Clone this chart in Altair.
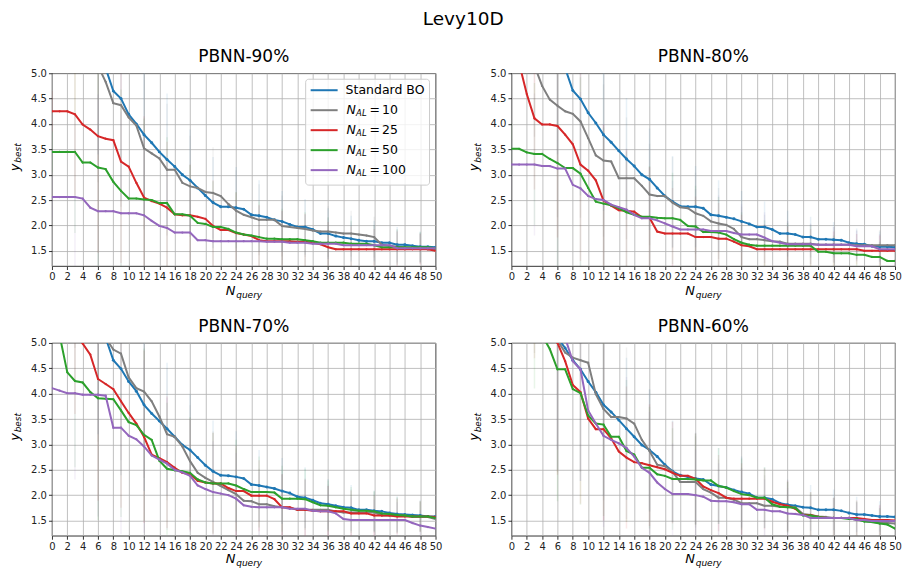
import altair as alt
import pandas as pd

FONT = "DejaVu Sans"
X = list(range(51))
ERR_X = list(range(0, 51, 3))

SERIES = ["Standard BO", "N_AL = 10", "N_AL = 25", "N_AL = 50", "N_AL = 100"]
COLORS = ["#1f77b4", "#7f7f7f", "#d62728", "#2ca02c", "#9467bd"]
PANELS = ["PBNN-90%", "PBNN-80%", "PBNN-70%", "PBNN-60%"]
X_TICKS = list(range(0, 51, 2))
Y_TICKS = [1.5, 2.0, 2.5, 3.0, 3.5, 4.0, 4.5, 5.0]

# ---------------- PBNN-90% ----------------
p90_bo = [8.2, 7.9, 7.5, 7.1, 6.7, 6.2, 5.7, 5.1, 4.65, 4.50, 4.19, 4.00, 3.79, 3.63, 3.45, 3.30, 3.16, 3.00,
          2.89, 2.74, 2.59, 2.45, 2.37, 2.37, 2.35, 2.32, 2.21, 2.19, 2.16, 2.11, 2.08, 2.02, 1.97, 1.97, 1.92,
          1.84, 1.84, 1.79, 1.76, 1.74, 1.71, 1.69, 1.69, 1.66, 1.66, 1.62, 1.62, 1.60, 1.58, 1.58, 1.57]
p90_n10 = [7.8, 7.5, 7.1, 6.6, 6.1, 5.6, 5.15, 4.83, 4.41, 4.37, 4.13, 3.97, 3.52, 3.42, 3.32, 3.10, 3.10, 2.84,
           2.77, 2.74, 2.66, 2.64, 2.58, 2.42, 2.29, 2.21, 2.16, 2.11, 2.11, 2.11, 1.99, 1.97, 1.95, 1.93, 1.90,
           1.88, 1.88, 1.86, 1.84, 1.84, 1.82, 1.80, 1.77, 1.62, 1.60, 1.58, 1.57, 1.55, 1.55, 1.53, 1.53]
p90_n25 = [4.25, 4.25, 4.25, 4.19, 3.99, 3.89, 3.76, 3.71, 3.68, 3.26, 3.16, 2.84, 2.55, 2.48, 2.43, 2.35, 2.22,
           2.20, 2.20, 2.17, 2.13, 1.99, 1.91, 1.91, 1.85, 1.82, 1.79, 1.71, 1.69, 1.69, 1.69, 1.69, 1.68, 1.68,
           1.66, 1.63, 1.57, 1.53, 1.53, 1.53, 1.53, 1.53, 1.53, 1.53, 1.53, 1.53, 1.53, 1.53, 1.53, 1.53, 1.50]
p90_n50 = [3.45, 3.45, 3.45, 3.45, 3.24, 3.24, 3.14, 3.11, 2.86, 2.68, 2.53, 2.53, 2.51, 2.50, 2.44, 2.44, 2.22,
           2.22, 2.19, 2.05, 2.03, 1.97, 1.97, 1.93, 1.86, 1.82, 1.80, 1.77, 1.74, 1.74, 1.73, 1.73, 1.73, 1.71,
           1.69, 1.66, 1.66, 1.66, 1.66, 1.64, 1.64, 1.64, 1.61, 1.57, 1.57, 1.57, 1.57, 1.57, 1.57, 1.57, 1.55]
p90_n100 = [2.56, 2.56, 2.56, 2.56, 2.53, 2.35, 2.28, 2.28, 2.28, 2.24, 2.24, 2.24, 2.20, 2.09, 1.99, 1.95, 1.86,
            1.86, 1.86, 1.71, 1.71, 1.69, 1.69, 1.69, 1.69, 1.69, 1.69, 1.69, 1.68, 1.68, 1.68, 1.66, 1.66, 1.66,
            1.64, 1.64, 1.64, 1.64, 1.61, 1.61, 1.61, 1.61, 1.61, 1.61, 1.61, 1.55, 1.55, 1.55, 1.55, 1.55, 1.55]
err_p90 = [0.4, 1.6, 2.3, 2.0, 1.6, 1.3, 1.0, 0.9, 0.8, 0.7, 0.6, 0.55, 0.5, 0.45, 0.4, 0.35, 0.3]

# ---------------- PBNN-80% ----------------
p80_bo = [8.0, 7.7, 7.3, 6.9, 6.5, 6.0, 5.6, 5.1, 4.66, 4.49, 4.22, 4.02, 3.79, 3.64, 3.47, 3.31, 3.17, 3.00,
          2.91, 2.74, 2.58, 2.47, 2.38, 2.37, 2.37, 2.34, 2.21, 2.19, 2.16, 2.13, 2.08, 2.03, 1.97, 1.97, 1.92,
          1.84, 1.84, 1.82, 1.77, 1.77, 1.73, 1.73, 1.72, 1.71, 1.66, 1.64, 1.63, 1.59, 1.58, 1.58, 1.57]
p80_n10 = [6.6, 6.1, 5.6, 5.15, 4.75, 4.48, 4.36, 4.25, 4.20, 4.05, 3.72, 3.38, 3.28, 3.26, 2.93, 2.93, 2.93, 2.78,
           2.61, 2.58, 2.58, 2.45, 2.36, 2.34, 2.24, 2.19, 2.08, 2.04, 2.01, 1.93, 1.77, 1.73, 1.73, 1.71, 1.69,
           1.68, 1.64, 1.64, 1.64, 1.64, 1.62, 1.62, 1.62, 1.62, 1.62, 1.61, 1.61, 1.61, 1.61, 1.61, 1.61]
p80_n25 = [5.9, 5.2, 4.59, 4.11, 3.99, 3.99, 3.96, 3.79, 3.60, 3.20, 3.08, 2.89, 2.49, 2.39, 2.30, 2.29, 2.27,
           2.16, 2.15, 1.88, 1.84, 1.84, 1.84, 1.84, 1.77, 1.77, 1.77, 1.74, 1.74, 1.68, 1.61, 1.59, 1.53, 1.53,
           1.53, 1.53, 1.53, 1.53, 1.53, 1.53, 1.53, 1.53, 1.53, 1.53, 1.53, 1.53, 1.50, 1.50, 1.50, 1.50, 1.50]
p80_n50 = [3.51, 3.51, 3.44, 3.41, 3.41, 3.31, 3.23, 3.13, 3.13, 3.02, 2.74, 2.47, 2.43, 2.40, 2.34, 2.26, 2.21,
           2.17, 2.17, 2.15, 2.14, 2.14, 2.11, 1.99, 1.98, 1.87, 1.87, 1.86, 1.82, 1.73, 1.66, 1.62, 1.60, 1.60,
           1.60, 1.60, 1.60, 1.60, 1.60, 1.60, 1.48, 1.48, 1.45, 1.45, 1.45, 1.42, 1.42, 1.38, 1.38, 1.30, 1.30]
p80_n100 = [3.20, 3.20, 3.20, 3.20, 3.17, 3.17, 3.12, 3.12, 2.80, 2.73, 2.58, 2.52, 2.50, 2.41, 2.36, 2.31, 2.21,
            2.14, 2.14, 2.10, 2.04, 1.98, 1.92, 1.92, 1.92, 1.92, 1.89, 1.89, 1.89, 1.85, 1.82, 1.82, 1.82, 1.76,
            1.69, 1.66, 1.63, 1.63, 1.63, 1.63, 1.62, 1.62, 1.62, 1.62, 1.62, 1.59, 1.59, 1.59, 1.53, 1.53, 1.53]
err_p80 = [0.5, 1.4, 2.2, 1.9, 1.5, 1.2, 1.0, 0.9, 0.8, 0.7, 0.6, 0.5, 0.45, 0.4, 0.35, 0.3, 0.3]

# ---------------- PBNN-70% ----------------
p70_bo = [8.0, 7.7, 7.3, 6.9, 6.5, 6.0, 5.6, 5.1, 4.66, 4.49, 4.24, 4.05, 3.78, 3.61, 3.46, 3.31, 3.15, 2.99,
          2.89, 2.74, 2.59, 2.47, 2.39, 2.38, 2.36, 2.33, 2.21, 2.19, 2.16, 2.13, 2.08, 2.04, 1.97, 1.95, 1.90,
          1.84, 1.82, 1.79, 1.76, 1.75, 1.71, 1.71, 1.69, 1.68, 1.65, 1.63, 1.62, 1.61, 1.60, 1.58, 1.58]
p70_n10 = [7.6, 7.3, 7.0, 6.6, 6.2, 5.8, 5.45, 5.1, 4.87, 4.79, 4.32, 4.11, 4.04, 3.85, 3.55, 3.20, 3.15, 2.96,
           2.67, 2.44, 2.34, 2.26, 2.18, 2.10, 2.02, 1.89, 1.88, 1.82, 1.82, 1.78, 1.76, 1.75, 1.71, 1.71, 1.71,
           1.71, 1.71, 1.68, 1.66, 1.66, 1.66, 1.66, 1.66, 1.60, 1.60, 1.60, 1.60, 1.57, 1.57, 1.57, 1.53]
p70_n25 = [6.5, 6.1, 5.7, 5.3, 4.99, 4.77, 4.29, 4.19, 4.09, 3.85, 3.62, 3.41, 3.15, 2.80, 2.73, 2.65, 2.54,
           2.44, 2.41, 2.28, 2.25, 2.23, 2.23, 2.14, 2.08, 2.08, 1.99, 1.99, 1.99, 1.92, 1.76, 1.76, 1.71, 1.71,
           1.69, 1.68, 1.68, 1.68, 1.68, 1.64, 1.64, 1.64, 1.60, 1.60, 1.60, 1.58, 1.58, 1.58, 1.58, 1.58, 1.57]
p70_n50 = [5.8, 5.15, 4.42, 4.25, 4.22, 4.03, 3.91, 3.90, 3.89, 3.67, 3.44, 3.38, 3.19, 3.09, 2.68, 2.52, 2.49,
           2.47, 2.44, 2.31, 2.25, 2.23, 2.23, 2.23, 2.19, 2.12, 2.06, 2.06, 2.06, 2.05, 1.93, 1.93, 1.93, 1.92,
           1.86, 1.80, 1.79, 1.76, 1.73, 1.71, 1.69, 1.69, 1.68, 1.64, 1.63, 1.61, 1.60, 1.58, 1.58, 1.58, 1.55]
p70_n100 = [4.11, 4.06, 4.01, 4.01, 3.98, 3.98, 3.98, 3.96, 3.33, 3.33, 3.17, 3.10, 2.96, 2.78, 2.70, 2.62, 2.50,
            2.45, 2.38, 2.19, 2.12, 2.06, 2.03, 2.00, 1.93, 1.80, 1.77, 1.76, 1.76, 1.76, 1.76, 1.73, 1.73, 1.73,
            1.69, 1.68, 1.68, 1.64, 1.53, 1.51, 1.51, 1.51, 1.51, 1.51, 1.51, 1.51, 1.51, 1.45, 1.40, 1.37, 1.34]
err_p70 = [0.5, 1.7, 2.4, 2.1, 1.7, 1.3, 1.1, 1.0, 0.9, 0.7, 0.65, 0.6, 0.5, 0.45, 0.4, 0.35, 0.3]

# ---------------- PBNN-60% ----------------
p60_bo = [7.8, 7.4, 7.0, 6.5, 6.0, 5.5, 5.1, 4.90, 4.66, 4.48, 4.24, 4.03, 3.78, 3.64, 3.48, 3.31, 3.15, 2.99,
          2.89, 2.76, 2.60, 2.47, 2.39, 2.36, 2.33, 2.31, 2.21, 2.18, 2.15, 2.10, 2.06, 2.03, 1.95, 1.95, 1.92,
          1.84, 1.81, 1.79, 1.76, 1.75, 1.71, 1.71, 1.71, 1.69, 1.65, 1.62, 1.62, 1.60, 1.58, 1.58, 1.57]
p60_n10 = [7.6, 7.2, 6.8, 6.3, 5.9, 5.45, 5.05, 4.81, 4.71, 4.66, 4.61, 3.99, 3.70, 3.54, 3.54, 3.51, 3.41, 3.09,
           2.87, 2.60, 2.57, 2.46, 2.26, 2.26, 2.26, 2.12, 2.05, 1.95, 1.95, 1.91, 1.84, 1.84, 1.84, 1.79, 1.79,
           1.77, 1.77, 1.76, 1.63, 1.61, 1.58, 1.57, 1.55, 1.55, 1.55, 1.51, 1.49, 1.47, 1.45, 1.45, 1.44]
p60_n25 = [7.4, 7.0, 6.6, 6.2, 5.8, 5.4, 5.0, 4.64, 4.17, 4.03, 3.51, 3.30, 3.30, 3.12, 2.86, 2.74, 2.65, 2.63,
           2.59, 2.55, 2.51, 2.44, 2.38, 2.38, 2.32, 2.17, 2.10, 2.04, 1.95, 1.93, 1.93, 1.93, 1.93, 1.93, 1.87,
           1.82, 1.79, 1.73, 1.61, 1.61, 1.57, 1.55, 1.55, 1.55, 1.55, 1.55, 1.53, 1.51, 1.51, 1.51, 1.50]
p60_n50 = [6.9, 6.5, 6.1, 5.6, 5.15, 4.88, 4.48, 4.48, 4.09, 4.01, 3.57, 3.41, 3.39, 3.15, 3.15, 2.87, 2.80, 2.54,
           2.54, 2.41, 2.38, 2.32, 2.32, 2.32, 2.31, 2.29, 2.29, 2.18, 2.15, 2.08, 2.02, 2.00, 1.95, 1.95, 1.82,
           1.77, 1.76, 1.75, 1.60, 1.60, 1.57, 1.55, 1.55, 1.55, 1.53, 1.53, 1.48, 1.47, 1.44, 1.42, 1.34]
p60_n100 = [8.0, 7.6, 7.2, 6.8, 6.3, 5.9, 5.5, 5.1, 4.64, 4.48, 3.67, 3.41, 3.17, 3.09, 3.02, 2.93, 2.76, 2.54,
            2.44, 2.25, 2.12, 2.02, 2.02, 2.02, 2.00, 1.97, 1.89, 1.88, 1.88, 1.86, 1.82, 1.82, 1.71, 1.71, 1.68,
            1.68, 1.64, 1.63, 1.61, 1.55, 1.55, 1.55, 1.55, 1.55, 1.55, 1.51, 1.51, 1.49, 1.49, 1.49, 1.49]
err_p60 = [0.5, 1.5, 2.6, 2.2, 1.8, 1.4, 1.2, 1.0, 0.9, 0.75, 0.7, 0.6, 0.5, 0.45, 0.4, 0.35, 0.3]

PANEL_DATA = [
    (PANELS[0], [p90_bo, p90_n10, p90_n25, p90_n50, p90_n100], err_p90),
    (PANELS[1], [p80_bo, p80_n10, p80_n25, p80_n50, p80_n100], err_p80),
    (PANELS[2], [p70_bo, p70_n10, p70_n25, p70_n50, p70_n100], err_p70),
    (PANELS[3], [p60_bo, p60_n10, p60_n25, p60_n50, p60_n100], err_p60),
]

W, H = 384, 193

x_scale = alt.Scale(domain=[0, 50], nice=False, zero=False)
y_scale = alt.Scale(domain=[1.2, 5.0], nice=False, zero=False)
x_axis = alt.Axis(values=X_TICKS, title=None, labelFlush=False, labelOverlap=False, format="d")
y_axis = alt.Axis(values=Y_TICKS, title=None, format=".1f", labelOverlap=False, minExtent=43, maxExtent=43)


def txt(s, x, y, size=12.5, style="normal", angle=0, align="left"):
    return alt.Chart(pd.DataFrame({"t": [s]})).mark_text(
        align=align, baseline="middle", fontSize=size, fontStyle=style, font=FONT,
        angle=angle, color="black"
    ).encode(x=alt.value(x), y=alt.value(y), text="t:N")


def make_panel(title, vals, err, with_legend, xt_gap):
    layers = []
    # error bars (every 3rd query)
    erows = []
    for s, v in zip(SERIES, vals):
        for j, xv in enumerate(ERR_X):
            erows.append({"x": xv, "lo": v[xv] - err[j], "hi": v[xv] + err[j], "series": s})
    edf = pd.DataFrame(erows)
    layers.append(
        alt.Chart(edf).mark_rule(clip=True, strokeWidth=1.5, opacity=0.1).encode(
            x=alt.X("x:Q", scale=x_scale, axis=x_axis),
            y=alt.Y("lo:Q", scale=y_scale, axis=y_axis),
            y2="hi:Q",
            color=alt.Color("series:N", scale=alt.Scale(domain=SERIES, range=COLORS), legend=None),
        )
    )
    for i, (s, v) in enumerate(zip(SERIES, vals)):
        df = pd.DataFrame({"x": X, "y": v, "series": s})
        base = alt.Chart(df).encode(
            x=alt.X("x:Q", scale=x_scale, axis=x_axis),
            y=alt.Y("y:Q", scale=y_scale, axis=y_axis),
        )
        layers.append(base.mark_line(clip=True, strokeWidth=2, color=COLORS[i]))
        layers.append(base.mark_circle(clip=True, size=9 if i == 0 else 5, opacity=1, color=COLORS[i]))
    # axis titles (with subscripts)
    layers.append(txt("y", -37, 98, size=13, style="italic", angle=270))
    layers.append(txt("best", -33.5, 89.5, size=9, style="italic", angle=270))
    layers.append(txt("N", W / 2 - 18, H + xt_gap, size=13, style="italic"))
    layers.append(txt("query", W / 2 - 7.5, H + xt_gap + 4, size=9, style="italic"))
    if with_legend:
        layers.append(
            alt.Chart(pd.DataFrame({"a": [0]})).mark_rect(
                fill="white", fillOpacity=0.8, stroke="#cccccc", strokeWidth=1, cornerRadius=3
            ).encode(x=alt.value(254), x2=alt.value(378), y=alt.value(6), y2=alt.value(112))
        )
        for i, s in enumerate(SERIES):
            yy = 17 + 20 * i
            layers.append(
                alt.Chart(pd.DataFrame({"a": [0]})).mark_rule(color=COLORS[i], strokeWidth=2).encode(
                    x=alt.value(259), x2=alt.value(286), y=alt.value(yy)
                )
            )
            if i == 0:
                layers.append(txt(s, 294, yy))
            else:
                num = s.split("= ")[1]
                layers.append(txt("N", 295, yy, style="italic"))
                layers.append(txt("AL", 304.5, yy + 3, size=8.5, style="italic"))
                layers.append(txt("=", 318, yy))
                layers.append(txt(num, 330.5, yy))
    return alt.layer(*layers).properties(
        width=W, height=H,
        title=alt.TitleParams(title, fontSize=17, font=FONT, fontWeight="normal", color="black", offset=2),
    )


panels = [make_panel(t, v, e, k == 0, 25 if k < 2 else 23.5) for k, (t, v, e) in enumerate(PANEL_DATA)]

chart = alt.concat(
    *panels, columns=2, spacing={"row": 77, "column": 76}, bounds="flush"
).properties(
    padding={"top": 2, "left": 0, "right": 0, "bottom": 0},
    title=alt.TitleParams("Levy10D", fontSize=18.5, font=FONT, fontWeight="normal", color="black",
                          anchor="middle", offset=19, dx=8),
).configure_view(
    stroke="black", strokeWidth=0.8
).configure_axis(
    grid=True, gridColor="#b0b0b0", gridWidth=0.8, domain=False,
    tickColor="black", tickSize=3.5, tickWidth=0.8,
    labelFont=FONT, labelFontSize=10, labelColor="#222222", labelPadding=2,
)

chart.save("out.html", embed_options={"renderer": "svg", "actions": False})
